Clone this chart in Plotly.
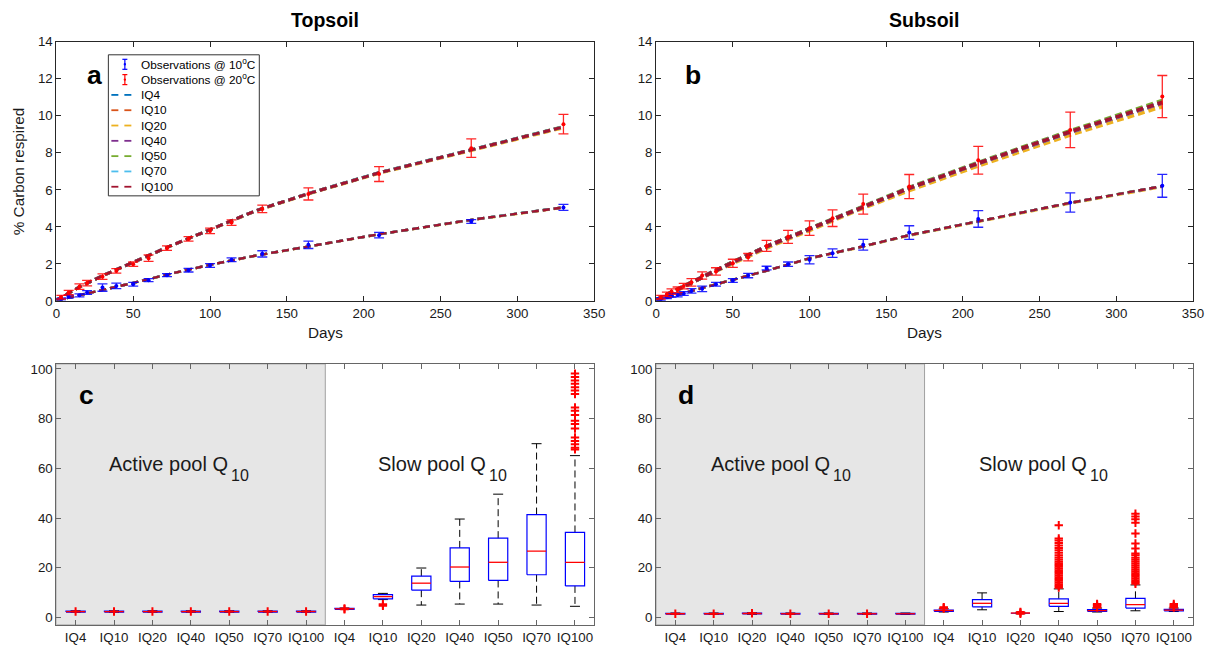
import plotly.graph_objects as go

W, H = 1213, 645
# observed screenshot mapping: screen = scale * figure_px + offset
SX, OX = 0.988, 10.6
SY, OY = 0.9765, 15.2

# ---------------- data: incubation curves ----------------
top_days = [3, 8, 15, 20, 30, 39, 50, 60, 72, 86, 100, 114, 134, 164, 210, 270, 330]
top_obs_10 = [0.1, 0.23, 0.3, 0.45, 0.72, 0.81, 0.9, 1.12, 1.39, 1.66, 1.91, 2.22, 2.54, 3.03, 3.55, 4.29, 5.05]
top_err_10 = [0.05, 0.08, 0.08, 0.1, 0.2, 0.15, 0.1, 0.08, 0.08, 0.1, 0.1, 0.1, 0.17, 0.2, 0.15, 0.1, 0.16]
top_obs_20 = [0.2, 0.45, 0.77, 0.96, 1.31, 1.62, 1.98, 2.31, 2.85, 3.35, 3.78, 4.23, 4.97, 5.78, 6.85, 8.25, 9.55]
top_err_20 = [0.1, 0.12, 0.15, 0.15, 0.15, 0.12, 0.12, 0.18, 0.12, 0.12, 0.15, 0.15, 0.2, 0.33, 0.4, 0.5, 0.53]

sub_days = [3, 7, 10, 14, 18, 23, 30, 39, 50, 60, 72, 86, 100, 115, 135, 165, 210, 270, 330]
sub_obs_10 = [0.1, 0.2, 0.3, 0.32, 0.4, 0.54, 0.65, 0.9, 1.1, 1.37, 1.77, 1.98, 2.22, 2.58, 3.03, 3.69, 4.43, 5.32, 6.22]
sub_err_10 = [0.08, 0.08, 0.1, 0.1, 0.1, 0.12, 0.15, 0.1, 0.1, 0.12, 0.1, 0.12, 0.22, 0.23, 0.29, 0.37, 0.45, 0.52, 0.62]
sub_obs_20 = [0.2, 0.35, 0.5, 0.6, 0.8, 1.0, 1.37, 1.59, 2.03, 2.36, 2.97, 3.46, 3.93, 4.47, 5.23, 6.18, 7.6, 9.24, 11.04]
sub_err_20 = [0.1, 0.12, 0.15, 0.15, 0.15, 0.2, 0.2, 0.2, 0.22, 0.2, 0.3, 0.35, 0.39, 0.45, 0.54, 0.65, 0.75, 0.96, 1.14]

model_names = ["IQ4", "IQ10", "IQ20", "IQ40", "IQ50", "IQ70", "IQ100"]
model_colors = ["#0072BD", "#D95319", "#EDB120", "#7E2F8E", "#77AC30", "#4DBEEE", "#A2142F"]
model_days = [0, 15, 30, 50, 75, 100, 130, 165, 210, 270, 330]

top_model_10 = {
    "IQ4":   [0.02, 0.30, 0.58, 0.97, 1.48, 1.95, 2.45, 2.95, 3.60, 4.38, 5.05],
    "IQ10":  [0.02, 0.30, 0.58, 0.97, 1.48, 1.95, 2.45, 2.95, 3.60, 4.38, 5.05],
    "IQ20":  [0.02, 0.30, 0.58, 0.96, 1.47, 1.94, 2.44, 2.94, 3.59, 4.36, 5.03],
    "IQ40":  [0.02, 0.30, 0.58, 0.97, 1.48, 1.95, 2.45, 2.95, 3.60, 4.38, 5.05],
    "IQ50":  [0.02, 0.30, 0.58, 0.97, 1.48, 1.95, 2.45, 2.95, 3.60, 4.38, 5.06],
    "IQ70":  [0.02, 0.30, 0.58, 0.97, 1.48, 1.95, 2.45, 2.95, 3.60, 4.38, 5.06],
    "IQ100": [0.02, 0.30, 0.58, 0.97, 1.48, 1.95, 2.45, 2.95, 3.60, 4.38, 5.05],
}
top_model_20 = {
    "IQ4":   [0.03, 0.75, 1.36, 2.08, 3.00, 3.85, 4.88, 5.82, 6.92, 8.16, 9.40],
    "IQ10":  [0.03, 0.75, 1.36, 2.08, 3.00, 3.85, 4.88, 5.82, 6.92, 8.16, 9.40],
    "IQ20":  [0.03, 0.74, 1.35, 2.07, 2.99, 3.84, 4.86, 5.80, 6.89, 8.12, 9.35],
    "IQ40":  [0.03, 0.75, 1.36, 2.08, 3.00, 3.85, 4.88, 5.82, 6.92, 8.16, 9.40],
    "IQ50":  [0.03, 0.75, 1.36, 2.08, 3.00, 3.85, 4.88, 5.83, 6.93, 8.17, 9.42],
    "IQ70":  [0.03, 0.75, 1.36, 2.08, 3.00, 3.85, 4.88, 5.83, 6.93, 8.17, 9.41],
    "IQ100": [0.03, 0.75, 1.36, 2.08, 3.00, 3.85, 4.88, 5.82, 6.92, 8.16, 9.40],
}
sub_model_10 = {
    "IQ4":   [0.02, 0.35, 0.72, 1.15, 1.70, 2.30, 2.85, 3.55, 4.30, 5.30, 6.20],
    "IQ10":  [0.02, 0.35, 0.72, 1.15, 1.70, 2.30, 2.85, 3.55, 4.30, 5.30, 6.20],
    "IQ20":  [0.02, 0.34, 0.71, 1.14, 1.69, 2.28, 2.83, 3.52, 4.27, 5.26, 6.15],
    "IQ40":  [0.02, 0.35, 0.72, 1.15, 1.70, 2.30, 2.85, 3.55, 4.30, 5.30, 6.20],
    "IQ50":  [0.02, 0.35, 0.72, 1.15, 1.70, 2.30, 2.85, 3.55, 4.30, 5.30, 6.21],
    "IQ70":  [0.02, 0.35, 0.72, 1.15, 1.70, 2.30, 2.85, 3.55, 4.30, 5.30, 6.20],
    "IQ100": [0.02, 0.35, 0.72, 1.15, 1.70, 2.30, 2.85, 3.55, 4.30, 5.30, 6.20],
}
sub_model_20 = {
    "IQ4":   [0.05, 0.65, 1.30, 2.09, 3.04, 3.89, 4.94, 6.09, 7.43, 9.12, 10.70],
    "IQ10":  [0.05, 0.65, 1.30, 2.09, 3.04, 3.89, 4.94, 6.08, 7.42, 9.11, 10.68],
    "IQ20":  [0.05, 0.63, 1.27, 2.05, 2.97, 3.81, 4.85, 5.97, 7.30, 8.97, 10.50],
    "IQ40":  [0.05, 0.65, 1.30, 2.09, 3.04, 3.89, 4.94, 6.09, 7.43, 9.12, 10.70],
    "IQ50":  [0.05, 0.66, 1.31, 2.10, 3.05, 3.91, 4.97, 6.13, 7.48, 9.19, 10.82],
    "IQ70":  [0.05, 0.65, 1.30, 2.09, 3.04, 3.89, 4.94, 6.09, 7.44, 9.13, 10.72],
    "IQ100": [0.05, 0.65, 1.30, 2.09, 3.04, 3.89, 4.94, 6.09, 7.44, 9.14, 10.73],
}

# ---------------- data: Q10 box plots ----------------
box_labels = ["IQ4", "IQ10", "IQ20", "IQ40", "IQ50", "IQ70", "IQ100"] * 2

c_q1  = [2.2, 2.2, 2.2, 2.2, 2.2, 2.2, 2.2, 3.3, 7.5, 11.0, 14.5, 14.9, 17.2, 12.7]
c_med = [2.4, 2.4, 2.4, 2.4, 2.4, 2.4, 2.4, 3.5, 8.4, 13.8, 20.3, 22.2, 26.7, 22.2]
c_q3  = [2.6, 2.6, 2.6, 2.6, 2.6, 2.6, 2.6, 3.7, 9.2, 16.6, 28.0, 31.9, 41.4, 34.2]
c_lo  = [2.1, 2.1, 2.1, 2.1, 2.1, 2.1, 2.1, 3.2, 7.2, 5.0, 5.4, 5.4, 5.0, 4.5]
c_hi  = [2.7, 2.7, 2.7, 2.7, 2.7, 2.7, 2.7, 3.8, 9.7, 19.9, 39.6, 49.6, 69.9, 65.1]
c_out = {
    1: [2.4], 2: [2.4], 3: [2.4], 4: [2.4], 5: [2.4], 6: [2.4], 7: [2.4],
    8: [3.3, 3.6], 9: [4.7, 5.3],
    14: [98.1, 96.7, 95.3, 94.0, 92.6, 91.3, 89.9, 84.5, 83.2, 81.4, 79.1, 77.8,
         76.0, 72.4, 71.0, 69.7, 68.3, 67.6],
}

d_q1  = [1.3, 1.3, 1.4, 1.3, 1.3, 1.3, 1.3, 2.5, 4.3, 1.7, 4.5, 2.5, 3.8, 2.7]
d_med = [1.5, 1.5, 1.6, 1.5, 1.5, 1.5, 1.5, 2.8, 5.7, 1.8, 5.7, 2.8, 5.2, 3.0]
d_q3  = [1.7, 1.7, 1.8, 1.7, 1.7, 1.7, 1.7, 3.0, 7.2, 1.9, 7.5, 3.2, 7.7, 3.3]
d_lo  = [1.2, 1.2, 1.3, 1.2, 1.2, 1.2, 1.2, 2.2, 3.1, 1.5, 2.4, 2.2, 2.7, 2.4]
d_hi  = [1.8, 1.8, 1.9, 1.8, 1.8, 1.8, 1.8, 3.5, 9.9, 2.1, 11.5, 3.8, 13.1, 3.8]
d_out = {
    1: [1.5], 2: [1.5], 3: [1.7], 4: [1.5], 5: [1.5], 6: [1.5],
    8: [3.6, 3.9, 4.1], 10: [1.5, 1.9, 2.2],
    11: [12.0, 12.7, 13.4, 14.1, 14.8, 15.5, 16.2, 16.9, 17.6, 18.3, 19.0, 19.7, 20.4,
         21.1, 21.8, 22.5, 23.3, 24.1, 25.0, 26.0, 27.0, 28.0, 29.0, 30.0, 31.0, 31.8, 37.1],
    12: [4.0, 4.5, 5.0, 5.4],
    13: [13.6, 14.3, 15.0, 15.7, 16.4, 17.1, 17.8, 18.5, 19.2, 20.0, 20.8, 21.6, 22.4,
         23.2, 24.0, 25.0, 25.7, 27.7, 29.8, 33.8, 38.1, 39.5, 40.6, 41.7],
    14: [4.0, 4.4, 4.8, 5.4],
}

# ---------------- figure ----------------
def fx(p):
    # target screenshot pixel -> paper fraction
    return ((p - OX) / SX) / W


def fy(p):
    return 1 - ((p - OY) / SY) / H


fig = go.Figure()

ft = "Liberation Sans, Arial, sans-serif"
axis_font = dict(family=ft, size=13.3, color="#1a1a1a")
AX = dict(showline=True, linecolor="#262626", linewidth=1, mirror="ticks", ticks="inside",
          ticklen=5, tickcolor="#262626", showgrid=False, zeroline=False, tickfont=axis_font)

DASH = "7px,4px"


def add_curves(xa, ya, days, o10, e10, o20, e20, m10, m20, lw20):
    for name, col in zip(model_names, model_colors):
        fig.add_trace(go.Scatter(x=model_days, y=m10[name], mode="lines", xaxis=xa, yaxis=ya,
                                 line=dict(color=col, width=2.4, dash=DASH), showlegend=False))
    for name, col in zip(model_names, model_colors):
        fig.add_trace(go.Scatter(x=model_days, y=m20[name], mode="lines", xaxis=xa, yaxis=ya,
                                 line=dict(color=col, width=lw20, dash=DASH), showlegend=False))
    fig.add_trace(go.Scatter(x=days, y=o10, mode="markers", xaxis=xa, yaxis=ya, showlegend=False,
                             marker=dict(color="#0000ff", size=4),
                             error_y=dict(type="data", array=e10, color="rgba(0,0,255,0.85)",
                                          thickness=1.3, width=5)))
    fig.add_trace(go.Scatter(x=days, y=o20, mode="markers", xaxis=xa, yaxis=ya, showlegend=False,
                             marker=dict(color="#ff0000", size=4),
                             error_y=dict(type="data", array=e20, color="rgba(255,0,0,0.85)",
                                          thickness=1.3, width=5)))


add_curves("x", "y", top_days, top_obs_10, top_err_10, top_obs_20, top_err_20,
           top_model_10, top_model_20, 3.0)
add_curves("x2", "y2", sub_days, sub_obs_10, sub_err_10, sub_obs_20, sub_err_20,
           sub_model_10, sub_model_20, 3.8)


def add_boxes(xa, ya, q1, med, q3, lo, hi, outs):
    hw, cw = 0.25, 0.13
    bx, by, mx, my, wx, wy, cx, cy = [], [], [], [], [], [], [], []
    for i in range(len(q1)):
        k = i + 1
        bx += [k - hw, k + hw, k + hw, k - hw, k - hw, None]
        by += [q1[i], q1[i], q3[i], q3[i], q1[i], None]
        mx += [k - hw, k + hw, None]
        my += [med[i], med[i], None]
        wx += [k, k, None, k, k, None]
        wy += [q3[i], hi[i], None, q1[i], lo[i], None]
        cx += [k - cw, k + cw, None, k - cw, k + cw, None]
        cy += [hi[i], hi[i], None, lo[i], lo[i], None]
    fig.add_trace(go.Scatter(x=wx, y=wy, mode="lines", xaxis=xa, yaxis=ya, showlegend=False,
                             line=dict(color="black", width=1, dash="7px,4px")))
    fig.add_trace(go.Scatter(x=cx, y=cy, mode="lines", xaxis=xa, yaxis=ya, showlegend=False,
                             line=dict(color="black", width=1)))
    fig.add_trace(go.Scatter(x=bx, y=by, mode="lines", xaxis=xa, yaxis=ya, showlegend=False,
                             line=dict(color="#0000ff", width=1.2)))
    fig.add_trace(go.Scatter(x=mx, y=my, mode="lines", xaxis=xa, yaxis=ya, showlegend=False,
                             line=dict(color="#ff0000", width=1.3)))
    ox, oy = [], []
    for k, vals in outs.items():
        ox += [k] * len(vals)
        oy += vals
    fig.add_trace(go.Scatter(x=ox, y=oy, mode="markers", xaxis=xa, yaxis=ya, showlegend=False,
                             marker=dict(symbol="cross-thin", size=6, color="#ff0000",
                                         line=dict(color="#ff0000", width=2))))


add_boxes("x3", "y3", c_q1, c_med, c_q3, c_lo, c_hi, c_out)
add_boxes("x4", "y4", d_q1, d_med, d_q3, d_lo, d_hi, d_out)

dom_a_x = [fx(55), fx(593)]
dom_b_x = [fx(655), fx(1192)]
dom_top_y = [fy(301), fy(42)]
dom_bot_y = [fy(625), fy(364)]

pos = list(range(1, 15))
GRAYAX = dict(linecolor="#666666", tickcolor="#666666")

fig.update_layout(
    width=W, height=H, margin=dict(l=0, r=0, t=0, b=0),
    paper_bgcolor="white", plot_bgcolor="white", showlegend=False,
    font=dict(family=ft, color="#1a1a1a"),
    xaxis=dict(AX, domain=dom_a_x, anchor="y", range=[0, 350], tickvals=list(range(0, 351, 50))),
    yaxis=dict(AX, domain=dom_top_y, anchor="x", range=[0, 14], tickvals=list(range(0, 15, 2))),
    xaxis2=dict(AX, domain=dom_b_x, anchor="y2", range=[0, 350], tickvals=list(range(0, 351, 50))),
    yaxis2=dict(AX, domain=dom_top_y, anchor="x2", range=[0, 14], tickvals=list(range(0, 15, 2))),
    xaxis3=dict(AX, domain=dom_a_x, anchor="y3", range=[0.5, 14.5], tickvals=pos, ticktext=box_labels, **GRAYAX),
    yaxis3=dict(AX, domain=dom_bot_y, anchor="x3", range=[-3, 102], tickvals=list(range(0, 101, 20)), **GRAYAX),
    xaxis4=dict(AX, domain=dom_b_x, anchor="y4", range=[0.5, 14.5], tickvals=pos, ticktext=box_labels, **GRAYAX),
    yaxis4=dict(AX, domain=dom_bot_y, anchor="x4", range=[-3, 102], tickvals=list(range(0, 101, 20)), **GRAYAX),
)

# gray "active pool" backgrounds
for xr, yr in (("x3", "y3"), ("x4", "y4")):
    fig.add_shape(type="rect", xref=xr, yref=yr, x0=0.5, x1=7.5, y0=-3, y1=102,
                  fillcolor="#e6e6e6", line=dict(color="#a0a0a0", width=1), layer="below")

ann = []
# titles
ann.append(dict(x=fx(324), y=fy(20), text="<b>Topsoil</b>", font=dict(size=19.5, family=ft, color="black")))
ann.append(dict(x=fx(923), y=fy(20), text="<b>Subsoil</b>", font=dict(size=19.5, family=ft, color="black")))
# panel letters
for t, xx, yy in (("a", 93, 75), ("b", 692, 75), ("c", 85, 395), ("d", 685, 395)):
    ann.append(dict(x=fx(xx), y=fy(yy), text="<b>%s</b>" % t, font=dict(size=26.5, family=ft, color="black")))
# axis labels
ann.append(dict(x=fx(17), y=fy(171), text="% Carbon respired", textangle=-90,
                font=dict(size=15.3, family=ft, color="#1a1a1a")))
ann.append(dict(x=fx(324), y=fy(333), text="Days", font=dict(size=15.3, family=ft, color="#1a1a1a")))
ann.append(dict(x=fx(923), y=fy(333), text="Days", font=dict(size=15.3, family=ft, color="#1a1a1a")))
# pool labels (main text and the MATLAB-style lowered subscript)
for main_txt, mx_, sx_ in (("Active pool Q", 167.5, 239.0), ("Slow pool Q", 431.0, 497.0),
                           ("Active pool Q", 769.5, 841.0), ("Slow pool Q", 1032.0, 1098.0)):
    ann.append(dict(x=fx(mx_), y=fy(464), text=main_txt, font=dict(size=20, family=ft, color="#1a1a1a")))
    ann.append(dict(x=fx(sx_), y=fy(476), text="10", font=dict(size=16, family=ft, color="#1a1a1a")))

# custom legend (panel a)
fig.add_shape(type="rect", xref="paper", yref="paper", x0=fx(107), x1=fx(258), y0=fy(196), y1=fy(55),
              line=dict(color="#333333", width=1), fillcolor="white", layer="above")
leg_rows = [64.5, 79.8, 95.1, 110.4, 125.7, 141.0, 156.3, 171.6, 186.9]
leg_texts = ["Observations @ 10<sup>o</sup>C", "Observations @ 20<sup>o</sup>C"] + model_names
for i, (ry, txt) in enumerate(zip(leg_rows, leg_texts)):
    if i < 2:
        col = "#0000ff" if i == 0 else "#ff0000"
        fig.add_shape(type="line", xref="paper", yref="paper", x0=fx(123.5), x1=fx(123.5),
                      y0=fy(ry - 5), y1=fy(ry + 5), line=dict(color=col, width=1.2), layer="above")
        for dy in (-5, 5):
            fig.add_shape(type="line", xref="paper", yref="paper", x0=fx(121), x1=fx(126),
                          y0=fy(ry + dy), y1=fy(ry + dy), line=dict(color=col, width=1.2), layer="above")
        fig.add_shape(type="circle", xref="paper", yref="paper", x0=fx(122.3), x1=fx(124.7),
                      y0=fy(ry + 1.2), y1=fy(ry - 1.2), fillcolor=col, line=dict(color=col, width=0),
                      layer="above")
    else:
        col = model_colors[i - 2]
        for a, b in ((110, 117), (123, 130)):
            fig.add_shape(type="line", xref="paper", yref="paper", x0=fx(a), x1=fx(b),
                          y0=fy(ry), y1=fy(ry), line=dict(color=col, width=1.8), layer="above")
    ann.append(dict(x=fx(138), y=fy(ry), text=txt, xanchor="left",
                    font=dict(size=11.8, family=ft, color="black")))

for a in ann:
    a.setdefault("xref", "paper")
    a.setdefault("yref", "paper")
    a.setdefault("showarrow", False)
    a.setdefault("xanchor", "center")
    a.setdefault("yanchor", "middle")
    fig.add_annotation(**a)

fig.write_html("out.html")
